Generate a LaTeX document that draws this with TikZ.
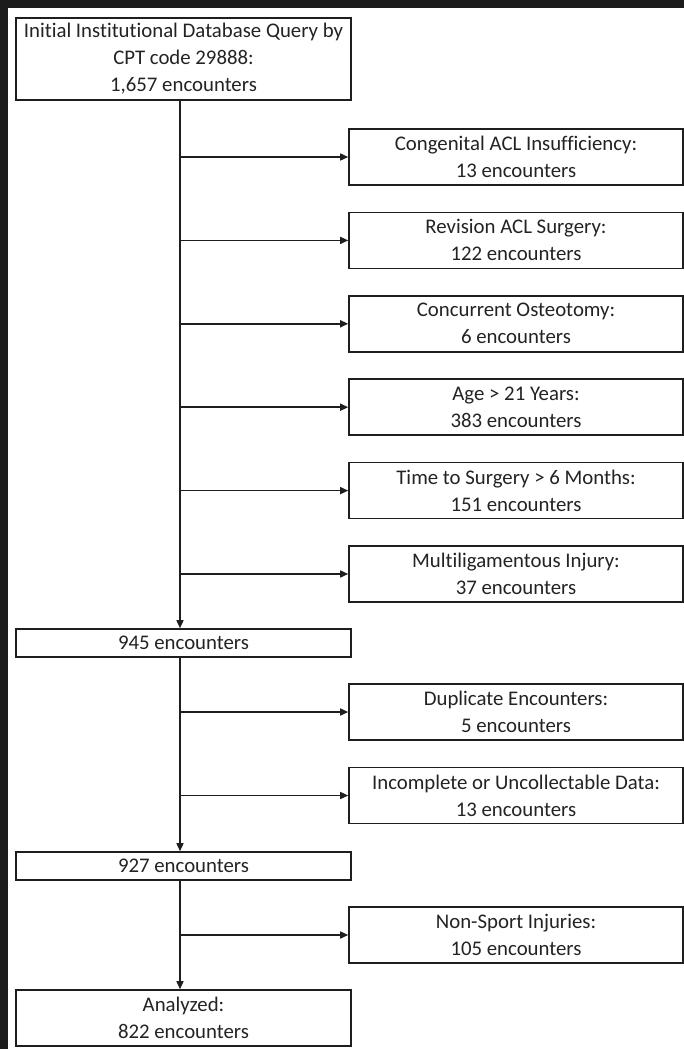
\documentclass[tikz,border=0pt]{standalone}
\usepackage{fontspec}
\setmainfont[Ligatures=NoCommon]{Carlito}
\usepackage{tikz}
\usetikzlibrary{arrows.meta,calc}
\tikzset{every node/.append style={align=center}}
\definecolor{flowline}{RGB}{30,30,30}
\definecolor{flowtext}{RGB}{35,35,35}
\definecolor{framedark}{RGB}{28,28,28}
\tikzset{
  flowbox/.style={draw=flowline, line width=1.6pt, fill=white,
    text=flowtext, inner sep=2pt, minimum height=56pt},
  leftbox/.style={flowbox, minimum width=335pt},
  rightbox/.style={flowbox, minimum width=334pt},
  flowarrow/.style={-{Triangle[length=8pt,width=7pt]},
    line width=1.5pt, draw=flowline}
}

\begin{document}
\begin{tikzpicture}[x=1pt, y=-1pt, font=\fontsize{20.8}{27}\selectfont]

  % Page and dark frame
  \fill[framedark] (0,0) rectangle (684,1049);
  \fill[white] (8,8) rectangle (684,1049);
  \useasboundingbox (0,0) rectangle (684,1049);

  % Main column
  \node[leftbox, minimum height=82pt] (query) at (183.5,59)
    {Initial Institutional Database Query by\\
    CPT code 29888:\\1,657 encounters};
  \node[leftbox, minimum height=28pt] (first) at (183.5,643)
    {945 encounters};
  \node[leftbox, minimum height=28pt] (second) at (183.5,866)
    {927 encounters};
  \node[leftbox] (analyzed) at (183.5,1018)
    {Analyzed:\\822 encounters};

  % Trunk x position
  \coordinate (trunk) at (180,0);

  % Exclusions before 945
  \node[rightbox] (congenital) at (516,157)
    {Congenital ACL Insufficiency:\\13 encounters};
  \node[rightbox] (revision) at (516,240.4)
    {Revision ACL Surgery:\\122 encounters};
  \node[rightbox] (osteotomy) at (516,323.8)
    {Concurrent Osteotomy:\\6 encounters};
  \node[rightbox] (age) at (516,407.2)
    {Age > 21 Years:\\383 encounters};
  \node[rightbox] (delay) at (516,490.6)
    {Time to Surgery > 6 Months:\\151 encounters};
  \node[rightbox] (multilig) at (516,574)
    {Multiligamentous Injury:\\37 encounters};

  % Exclusions before 927
  \node[rightbox] (duplicate) at (516,712)
    {Duplicate Encounters:\\5 encounters};
  \node[rightbox] (incomplete) at (516,795.5)
    {Incomplete or Uncollectable Data:\\13 encounters};

  % Exclusion before analysis
  \node[rightbox] (nonsport) at (516,935)
    {Non-Sport Injuries:\\105 encounters};

  % Vertical flow
  \draw[flowarrow] (query.south -| trunk) -- (first.north -| trunk);
  \draw[flowarrow] (first.south -| trunk) -- (second.north -| trunk);
  \draw[flowarrow] (second.south -| trunk) -- (analyzed.north -| trunk);

  % Side arrows
  \draw[flowarrow] (congenital.west -| trunk) -- (congenital.west);
  \draw[flowarrow] (revision.west -| trunk) -- (revision.west);
  \draw[flowarrow] (osteotomy.west -| trunk) -- (osteotomy.west);
  \draw[flowarrow] (age.west -| trunk) -- (age.west);
  \draw[flowarrow] (delay.west -| trunk) -- (delay.west);
  \draw[flowarrow] (multilig.west -| trunk) -- (multilig.west);
  \draw[flowarrow] (duplicate.west -| trunk) -- (duplicate.west);
  \draw[flowarrow] (incomplete.west -| trunk) -- (incomplete.west);
  \draw[flowarrow] (nonsport.west -| trunk) -- (nonsport.west);

\end{tikzpicture}
\end{document}
